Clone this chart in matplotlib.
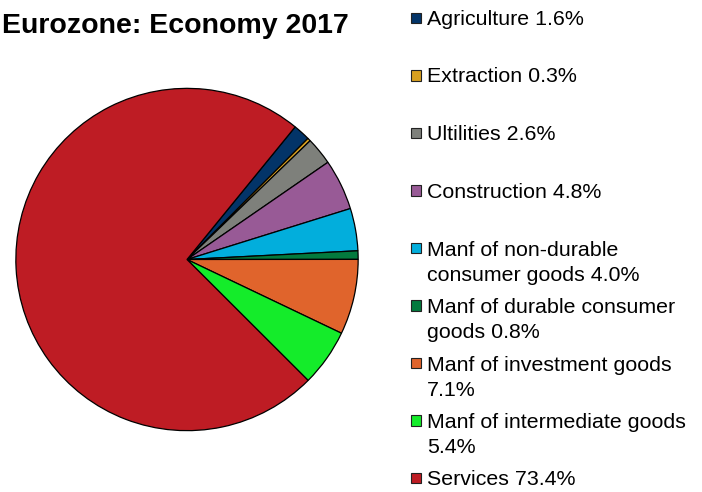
import matplotlib.pyplot as plt
from matplotlib.patches import Rectangle

plt.rcParams['font.family'] = ['Liberation Sans', 'DejaVu Sans']

# sector shares, % of economy 2017
sectors = ["Agriculture", "Extraction", "Ultilities", "Construction",
           "Manf of non-durable\nconsumer goods", "Manf of durable consumer\ngoods",
           "Manf of investment goods\n", "Manf of intermediate goods\n", "Services"]
shares = [1.6, 0.3, 2.6, 4.8, 4.0, 0.8, 7.1, 5.4, 73.4]
colors = ["#033468", "#D8A020", "#7E807B", "#985A96", "#02AEDC",
          "#037A3E", "#E0642C", "#14EC2A", "#BE1C24"]

W, H = 702, 492
fig = plt.figure(figsize=(W / 100, H / 100), dpi=100)

# pie: center (187, 259.5) px, radius 172 px
cx, cy, r = 187, 259.5, 172
ax = fig.add_axes([(cx - r) / W, (H - cy - r) / H, 2 * r / W, 2 * r / H])
ax.pie(shares, colors=colors, startangle=50.8, counterclock=False,
       wedgeprops=dict(edgecolor="black", linewidth=0.9))
ax.set_xlim(-1.005, 1.005)
ax.set_ylim(-1.005, 1.005)
ax.set_aspect("equal")
ax.axis("off")

fig.text(175 / W, 1 - 33 / H, "Eurozone: Economy 2017", ha="center", va="baseline",
         fontsize=20.5, fontweight="bold")

# legend, one slot per sector
base0, pitch, line_step = 25, 57.5, 25.7
for i, (name, val, col) in enumerate(zip(sectors, shares, colors)):
    base = base0 + i * pitch
    if name.endswith("\n"):
        label = name + f"{val:.1f}%"
    else:
        label = name + f" {val:.1f}%"
    nlines = label.count("\n") + 1
    fig.patches.append(Rectangle((411 / W, 1 - (base - 1.7) / H), 10.5 / W, 10.8 / H,
                                 transform=fig.transFigure, facecolor=col,
                                 edgecolor="#222222", linewidth=0.8))
    # baseline alignment goes to the last line, so shift down for wrapped labels
    fig.text(427 / W, 1 - (base + (nlines - 1) * line_step) / H, label,
             ha="left", va="baseline", fontsize=15.4, linespacing=1.41)

fig.savefig("out.png", dpi=100)
